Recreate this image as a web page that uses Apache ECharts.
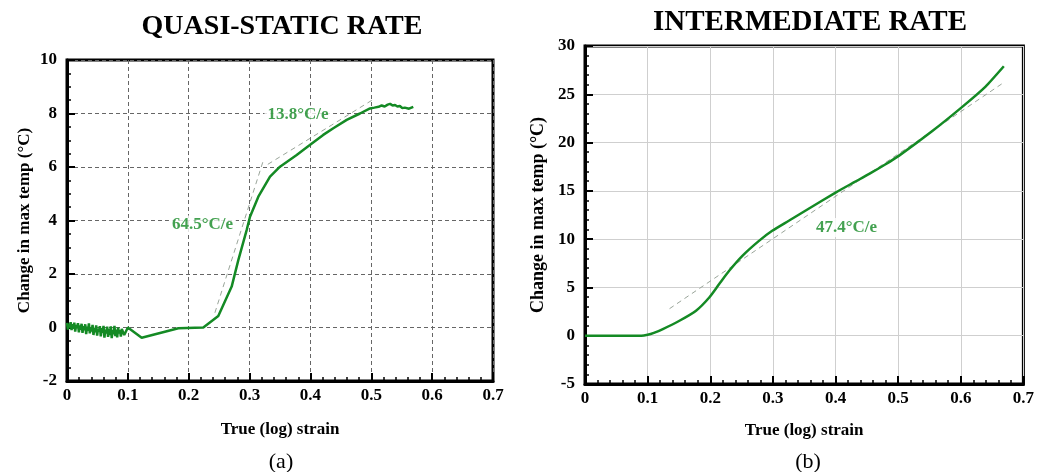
<!DOCTYPE html>
<html>
<head>
<meta charset="utf-8">
<script src="https://cdn.jsdelivr.net/npm/echarts@6/dist/echarts.min.js"></script>
<style>
html,body{margin:0;padding:0;background:#fff;}
#c{width:1037px;height:472px;}
</style>
</head>
<body>
<div id="c"></div>
<script>
// ---- Data ----
const xTicks = [0, 0.1, 0.2, 0.3, 0.4, 0.5, 0.6, 0.7];
const qsTicksY = [-2, 0, 2, 4, 6, 8, 10];
const imTicksY = [-5, 0, 5, 10, 15, 20, 25, 30];

// (a) Quasi-static rate
const qsStrain = [0,0.0015,0.003,0.0045,0.006,0.0075,0.009,0.0105,0.012,0.0135,0.015,0.0165,0.018,0.0195,0.021,0.0225,0.024,0.0255,0.027,0.0285,
  0.03,0.0315,0.033,0.0345,0.036,0.0375,0.039,0.0405,0.042,0.0435,0.045,0.0465,0.048,0.0495,0.051,0.0525,0.054,0.0555,0.057,0.0585,
  0.06,0.0615,0.063,0.0645,0.066,0.0675,0.069,0.0705,0.072,0.0735,0.075,0.0765,0.078,0.0795,0.081,0.0825,0.084,0.0855,0.087,0.0885,0.09,
  0.094,0.100,
  0.1227,0.183,0.224,0.2486,0.2706,0.2815,0.2952,0.3007,0.3144,0.3336,0.350,0.3774,0.399,0.421,0.4376,0.4596,0.4814,0.4979,
  0.505,0.512,0.517,0.522,0.527,0.531,0.535,0.539,0.543,0.547,0.551,0.555,0.558,0.562,0.565,0.569];
const qsTemp = [0.17,-0.08,0.14,0.00,0.20,-0.10,0.12,-0.05,0.18,-0.15,0.10,-0.02,0.16,-0.18,0.08,-0.08,0.14,-0.20,0.05,-0.10,
  0.12,-0.25,0.03,-0.12,0.15,-0.22,0.00,-0.15,0.10,-0.28,-0.02,-0.18,0.08,-0.30,-0.05,-0.15,0.05,-0.33,-0.02,-0.20,
  0.06,-0.38,-0.08,-0.22,0.03,-0.35,-0.05,-0.28,0.04,-0.40,-0.10,-0.25,0.06,-0.32,-0.08,-0.37,0.00,-0.22,-0.10,-0.34,-0.05,
  -0.28,0.00,
  -0.38,-0.03,0.00,0.43,1.53,2.52,3.64,4.14,4.89,5.64,6.01,6.45,6.82,7.20,7.45,7.76,8.00,8.19,
  8.22,8.25,8.30,8.26,8.33,8.36,8.30,8.32,8.26,8.28,8.20,8.22,8.15,8.18,8.22,8.25];
const qsFit1Strain = [0.243, 0.322];
const qsFit1Temp = [0.55, 6.2];
const qsFit2Strain = [0.330, 0.505];
const qsFit2Temp = [6.10, 8.55];
const qsNotes = [{x: 0.2226, y: 3.83, text: '64.5°C/e'}, {x: 0.3796, y: 7.94, text: '13.8°C/e'}];

// (b) Intermediate rate
const imStrain = [0.000,0.050,0.090,0.100,0.110,0.1243,0.1508,0.1773,0.1984,0.2143,0.2302,0.2513,0.2778,0.2989,0.3254,0.3571,0.4008,0.4300,0.4538,0.4800,0.5016,0.5546,0.6024,0.6396,0.6688];
const imTemp = [0.00,0.00,0.00,0.10,0.30,0.69,1.55,2.59,3.96,5.35,6.72,8.27,9.82,10.86,11.90,13.15,14.85,15.90,16.75,17.75,18.65,21.2,23.7,25.8,27.9];
const imFitStrain = [0.135, 0.666];
const imFitTemp = [2.8, 26.1];
const imNotes = [{x: 0.4176, y: 11.2, text: '47.4°C/e'}];

const titles = ['QUASI-STATIC RATE', 'INTERMEDIATE RATE'];
const captions = ['(a)', '(b)'];
const xName = 'True (log) strain';
const yName = 'Change in max temp (°C)';

// ---- Chart ----
const GREEN = '#148a24';
const SERIF = '"Liberation Serif", "DejaVu Serif", serif';
const zip = (a, b) => a.map((v, i) => [v, b[i]]);

function xAxisCfg(gi, gap) {
  return {
    type: 'value', gridIndex: gi, min: xTicks[0], max: xTicks[xTicks.length - 1], interval: 0.1,
    name: xName, nameLocation: 'middle', nameGap: gap,
    nameTextStyle: {fontFamily: SERIF, fontWeight: 'bold', fontSize: 17, color: '#000'},
    axisLine: {show: true, onZero: false, lineStyle: {color: '#000', width: 3}},
    axisTick: {show: true, inside: true, length: 8, lineStyle: {color: '#000', width: 2}},
    minorTick: {show: true, splitNumber: 5, length: 4, lineStyle: {color: '#000', width: 1.5}},
    axisLabel: {fontFamily: SERIF, fontWeight: 'bold', fontSize: 17, color: '#000', margin: 6},
    splitLine: {show: true, lineStyle: gi === 0 ? {color: '#666', width: 1, type: [4, 3]} : {color: '#cfcfcf', width: 1}}
  };
}
function yAxisCfg(gi, ticks, interval, split, gap, nameSize) {
  return {
    type: 'value', gridIndex: gi, min: ticks[0], max: ticks[ticks.length - 1], interval: interval,
    name: yName, nameLocation: 'middle', nameGap: gap,
    nameTextStyle: {fontFamily: SERIF, fontWeight: 'bold', fontSize: nameSize, color: '#000'},
    axisLine: {show: true, onZero: false, lineStyle: {color: '#000', width: 3}},
    axisTick: {show: true, inside: true, length: 8, lineStyle: {color: '#000', width: 2}},
    minorTick: {show: true, splitNumber: split, length: 4, lineStyle: {color: '#000', width: 1.5}},
    axisLabel: {fontFamily: SERIF, fontWeight: 'bold', fontSize: 17, color: '#000', margin: 10},
    splitLine: {show: true, lineStyle: gi === 0 ? {color: '#666', width: 1, type: [4, 3]} : {color: '#cfcfcf', width: 1}}
  };
}
function noteSeries(gi, notes) {
  return {
    type: 'scatter', xAxisIndex: gi, yAxisIndex: gi, symbolSize: 1, z: 10,
    itemStyle: {color: 'rgba(255,255,255,0)'},
    data: notes.map(n => ({value: [n.x, n.y], label: {formatter: n.text}})),
    label: {show: true, position: 'inside', fontFamily: SERIF, fontWeight: 'bold', fontSize: 17, color: GREEN,
            backgroundColor: '#fff', padding: [1, 3]},
    silent: true
  };
}
function fitSeries(gi, xs, ys) {
  return {type: 'line', xAxisIndex: gi, yAxisIndex: gi, data: zip(xs, ys), showSymbol: false, symbol: 'none',
          lineStyle: {color: '#9aa59a', width: 1, type: [5, 4]}, z: 3, silent: true};
}

const chart = echarts.init(document.getElementById('c'), null, {renderer: 'canvas'});
chart.setOption({
  animation: false,
  backgroundColor: '#fff',
  title: [
    {text: titles[0], left: 277, top: 8, textAlign: 'center', textStyle: {fontFamily: SERIF, fontWeight: 'bold', fontSize: 28, color: '#000'}},
    {text: titles[1], left: 805, top: 3, textAlign: 'center', textStyle: {fontFamily: SERIF, fontWeight: 'bold', fontSize: 29, color: '#000'}},
    {text: captions[0], left: 276, top: 446, textAlign: 'center', textStyle: {fontFamily: SERIF, fontWeight: 'normal', fontSize: 22, color: '#000'}},
    {text: captions[1], left: 803, top: 446, textAlign: 'center', textStyle: {fontFamily: SERIF, fontWeight: 'normal', fontSize: 22, color: '#000'}}
  ],
  grid: [
    {left: 67, top: 60, width: 426, height: 321, show: true, borderColor: '#000', borderWidth: 3, backgroundColor: 'transparent'},
    {left: 585, top: 46, width: 440, height: 338, show: true, borderColor: '#000', borderWidth: 3, backgroundColor: 'transparent'}
  ],
  xAxis: [xAxisCfg(0, 40), xAxisCfg(1, 38)],
  yAxis: [yAxisCfg(0, qsTicksY, 2, 4, 34, 17), yAxisCfg(1, imTicksY, 5, 5, 38, 18)],
  series: [
    fitSeries(0, qsFit1Strain, qsFit1Temp),
    fitSeries(0, qsFit2Strain, qsFit2Temp),
    {type: 'line', xAxisIndex: 0, yAxisIndex: 0, data: zip(qsStrain, qsTemp), showSymbol: false, symbol: 'none',
     lineStyle: {color: GREEN, width: 2.5}, z: 5},
    noteSeries(0, qsNotes),
    fitSeries(1, imFitStrain, imFitTemp),
    {type: 'line', xAxisIndex: 1, yAxisIndex: 1, data: zip(imStrain, imTemp), showSymbol: false, symbol: 'none', smooth: 0.2,
     lineStyle: {color: GREEN, width: 2.5}, z: 5},
    noteSeries(1, imNotes)
  ]
});
</script>
</body>
</html>
